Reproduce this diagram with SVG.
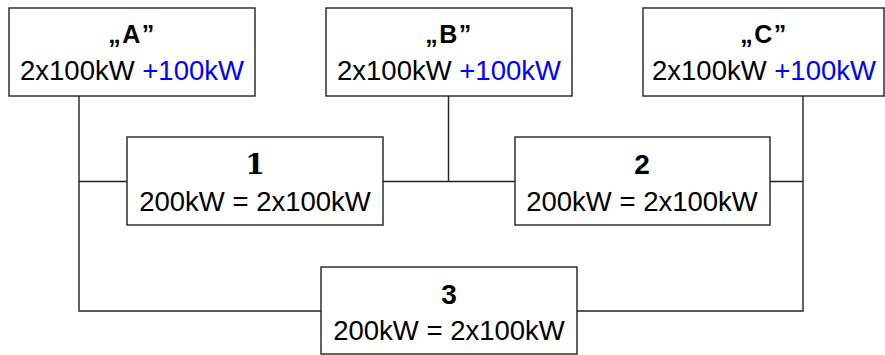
<svg xmlns="http://www.w3.org/2000/svg" width="885" height="355" viewBox="0 0 885 355">
<style>
.box{fill:#fff;stroke:#222;stroke-width:1.4}
.ln{fill:none;stroke:#222;stroke-width:1.4}
text{font-family:"Liberation Sans","DejaVu Sans",sans-serif;text-anchor:middle;fill:#000}
.t{font-size:25px;font-weight:bold;letter-spacing:1.5px}
.n{font-size:28px;font-weight:bold}
.ns{font-family:"DejaVu Serif","Liberation Serif",serif}
.b{font-size:27.5px}
.blue{fill:#0000ff}
</style>
<rect width="885" height="355" fill="#fff"/>
<g id="connectors">
<path class="ln" d="M79 96V311H321"/>
<path class="ln" d="M79 181.5H127"/>
<path class="ln" d="M383 181.5H515"/>
<path class="ln" d="M448.5 96V181.5"/>
<path class="ln" d="M770 181.5H803"/>
<path class="ln" d="M803 96V311H577"/>
</g>
<g id="nodeA">
<rect class="box" x="9" y="8" width="246" height="88"/>
<text class="t" x="132" y="42.5">„A”</text>
<text class="b" x="132" y="79.5">2x100kW <tspan class="blue">+100kW</tspan></text>
</g>
<g id="nodeB">
<rect class="box" x="326" y="8" width="246" height="88"/>
<text class="t" x="449" y="42.5">„B”</text>
<text class="b" x="449" y="79.5">2x100kW <tspan class="blue">+100kW</tspan></text>
</g>
<g id="nodeC">
<rect class="box" x="643" y="8" width="241" height="88"/>
<text class="t" x="764" y="42.5">„C”</text>
<text class="b" x="764" y="79.5">2x100kW <tspan class="blue">+100kW</tspan></text>
</g>
<g id="node1">
<rect class="box" x="127" y="137" width="256" height="88"/>
<text class="n ns" x="255" y="173.5">1</text>
<text class="b" x="255" y="210.5">200kW = 2x100kW</text>
</g>
<g id="node2">
<rect class="box" x="515" y="137" width="255" height="88"/>
<text class="n" x="642" y="173.5">2</text>
<text class="b" x="642" y="210.5">200kW = 2x100kW</text>
</g>
<g id="node3">
<rect class="box" x="321" y="267" width="256" height="87"/>
<text class="n" x="449" y="303.5">3</text>
<text class="b" x="449" y="340">200kW = 2x100kW</text>
</g>
</svg>
